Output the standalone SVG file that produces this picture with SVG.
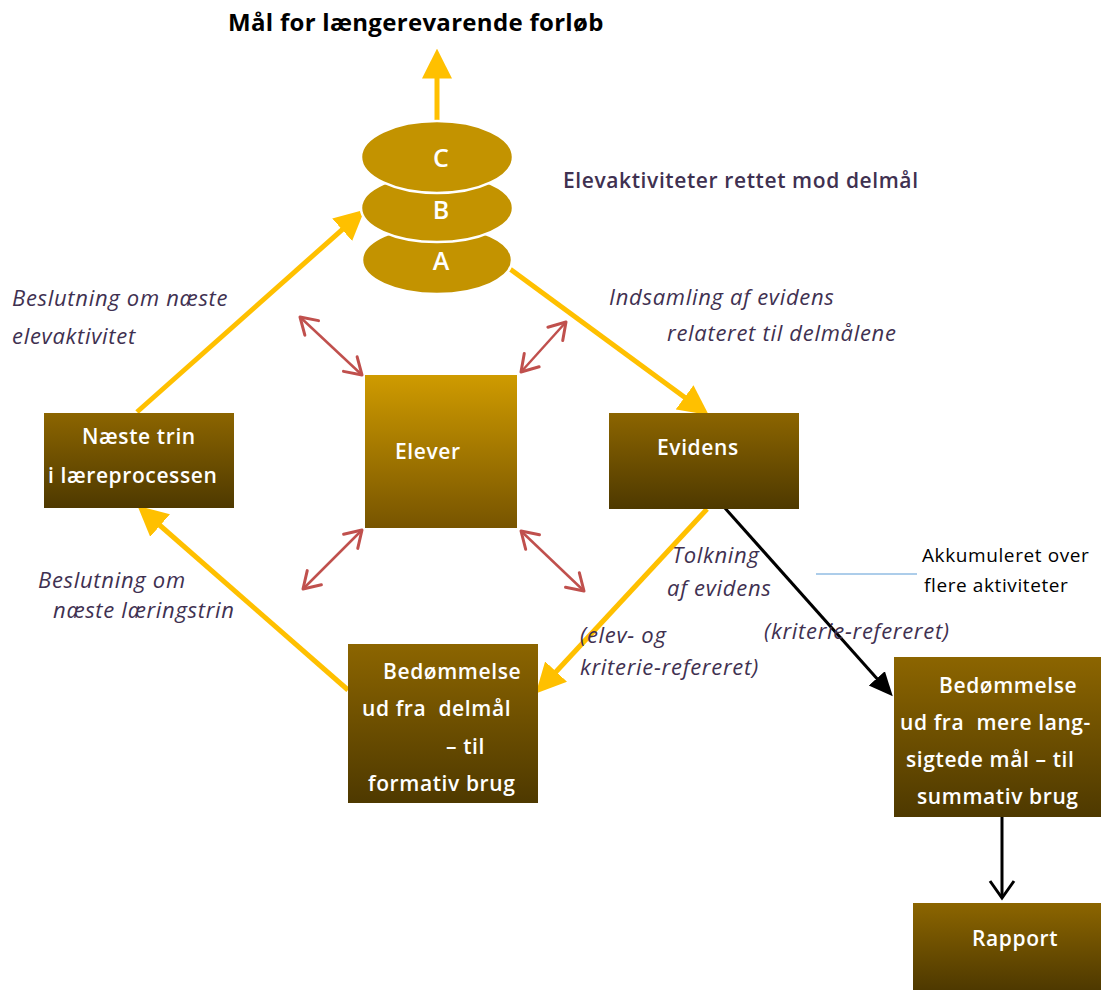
<svg xmlns="http://www.w3.org/2000/svg" width="1101" height="990" viewBox="0 0 1101 990">
<style>
.lbl{font-family:"Open Sans","Noto Sans",sans-serif;font-style:italic;font-size:22px;letter-spacing:0.7px;fill:#3F3151}
.box{font-family:"Open Sans","Noto Sans",sans-serif;font-weight:600;font-size:21px;letter-spacing:0.6px;fill:#FFFFFF}
.let{font-family:"Open Sans","Noto Sans",sans-serif;font-weight:600;font-size:25px;fill:#FFFFFF;text-anchor:middle}
.ell{fill:#C39300;stroke:#FFFFFF;stroke-width:2.5}
.yel{stroke:#FFC000;stroke-width:5;fill:none}
.red{stroke:#C0504D;stroke-width:2.5;fill:none;marker-start:url(#rh);marker-end:url(#rh)}
</style>
<defs>
<linearGradient id="gd" x1="0" y1="0" x2="0" y2="1"><stop offset="0" stop-color="#8C6500"/><stop offset="1" stop-color="#4E3900"/></linearGradient>
<linearGradient id="gl" x1="0" y1="0" x2="0" y2="1"><stop offset="0" stop-color="#CF9B00"/><stop offset="1" stop-color="#775400"/></linearGradient>
<marker id="yh" markerUnits="userSpaceOnUse" markerWidth="30" markerHeight="30" viewBox="0 0 26 26" refX="4" refY="13" orient="auto"><path d="M0,0 L26,13 L0,26 z" fill="#FFC000"/></marker>
<marker id="bh" markerUnits="userSpaceOnUse" markerWidth="24" markerHeight="24" viewBox="0 0 20 20" refX="4" refY="10" orient="auto"><path d="M0,1 L20,10 L0,19 z" fill="#000000"/></marker>
<marker id="bo" markerUnits="userSpaceOnUse" markerWidth="30" markerHeight="30" viewBox="-20 -15 24 30" refX="0" refY="0" orient="auto" overflow="visible"><path d="M-17,-12 L0,0 L-17,12" fill="none" stroke="#000000" stroke-width="3"/></marker>
<marker id="rh" markerUnits="userSpaceOnUse" markerWidth="30" markerHeight="30" viewBox="-20 -15 24 30" refX="0" refY="0" orient="auto-start-reverse" overflow="visible"><path d="M-16,-10 L0,0 L-16,10" fill="none" stroke="#C0504D" stroke-width="3" stroke-linecap="round" stroke-linejoin="round"/></marker>
</defs>
<rect width="1101" height="990" fill="#FFFFFF"/>
<text x="228" y="31" font-family="Open Sans,Noto Sans,sans-serif" font-weight="700" font-size="24" letter-spacing="0.3" fill="#000000">Mål for længerevarende forløb</text>
<g id="connectors">
<line class="yel" x1="437" y1="120" x2="437" y2="74" marker-end="url(#yh)"/>
<line class="yel" x1="137" y1="412" x2="345.6" y2="226.6" marker-end="url(#yh)"/>
<line class="yel" x1="510" y1="269" x2="688.3" y2="400" marker-end="url(#yh)"/>
<line class="yel" x1="707" y1="509" x2="553" y2="675" marker-end="url(#yh)"/>
<line class="yel" x1="348" y1="690" x2="156.6" y2="522.5" marker-end="url(#yh)"/>
<line x1="724" y1="507" x2="880" y2="682" stroke="#000000" stroke-width="3" marker-end="url(#bh)"/>
<line x1="1002" y1="817" x2="1002" y2="898" stroke="#000000" stroke-width="3" marker-end="url(#bo)"/>
<line class="red" x1="300" y1="317" x2="362" y2="375"/>
<line class="red" x1="566" y1="322" x2="521" y2="372"/>
<line class="red" x1="303" y1="589" x2="362" y2="530"/>
<line class="red" x1="521" y1="531" x2="584" y2="591"/>
<line x1="816" y1="574" x2="917" y2="574" stroke="#5B9BD5" stroke-width="1"/>
</g>
<g id="stack">
<ellipse class="ell" cx="437" cy="260" rx="75" ry="34"/>
<ellipse class="ell" cx="437" cy="208" rx="76" ry="34"/>
<ellipse class="ell" cx="437" cy="157" rx="76" ry="36"/>
<text class="let" x="441" y="270">A</text>
<text class="let" x="441" y="219">B</text>
<text class="let" x="441" y="167">C</text>
</g>
<text x="563" y="188" font-family="Open Sans,Noto Sans,sans-serif" font-weight="600" font-size="21" letter-spacing="0.6" fill="#3F3151">Elevaktiviteter rettet mod delmål</text>
<g id="naeste">
<rect x="44" y="413" width="190" height="95" fill="url(#gd)"/>
<text class="box" x="82" y="444">Næste trin</text>
<text class="box" x="48" y="483">i læreprocessen</text>
</g>
<g id="elever">
<rect x="365" y="375" width="152" height="153" fill="url(#gl)"/>
<text class="box" x="395" y="459">Elever</text>
</g>
<g id="evidens">
<rect x="609" y="413" width="190" height="96" fill="url(#gd)"/>
<text class="box" x="657" y="455">Evidens</text>
</g>
<g id="formativ">
<rect x="348" y="644" width="190" height="159" fill="url(#gd)"/>
<text class="box" x="383" y="679">Bedømmelse</text>
<text class="box" x="362" y="716" xml:space="preserve">ud fra  delmål</text>
<text class="box" x="446" y="754">– til</text>
<text class="box" x="368" y="791">formativ brug</text>
</g>
<g id="summativ">
<rect x="894" y="657" width="207" height="160" fill="url(#gd)"/>
<text class="box" x="939" y="693">Bedømmelse</text>
<text class="box" x="900" y="730" xml:space="preserve">ud fra  mere lang-</text>
<text class="box" x="906" y="767">sigtede mål – til</text>
<text class="box" x="917" y="804">summativ brug</text>
</g>
<g id="rapport">
<rect x="913" y="903" width="188" height="87" fill="url(#gd)"/>
<text class="box" x="972" y="946">Rapport</text>
</g>
<g id="labels">
<text class="lbl" x="12" y="306">Beslutning om næste</text>
<text class="lbl" x="12" y="344">elevaktivitet</text>
<text class="lbl" x="609" y="305">Indsamling af evidens</text>
<text class="lbl" x="667" y="341">relateret til delmålene</text>
<text class="lbl" x="38" y="588">Beslutning om</text>
<text class="lbl" x="53" y="618">næste læringstrin</text>
<text class="lbl" x="672" y="563">Tolkning</text>
<text class="lbl" x="667" y="596">af evidens</text>
<text class="lbl" x="580" y="643">(elev- og</text>
<text class="lbl" x="580" y="675">kriterie-refereret)</text>
<text class="lbl" x="764" y="639">(kriterie-refereret)</text>
<text x="922" y="562" font-family="Open Sans,Noto Sans,sans-serif" font-size="19" letter-spacing="0.6" fill="#000000">Akkumuleret over</text>
<text x="924" y="592" font-family="Open Sans,Noto Sans,sans-serif" font-size="19" letter-spacing="0.6" fill="#000000">flere aktiviteter</text>
</g>
</svg>
